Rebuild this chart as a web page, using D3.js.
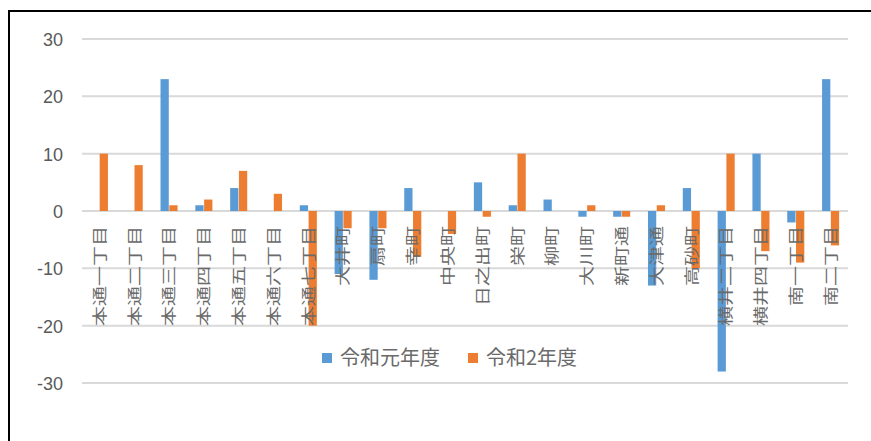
<!DOCTYPE html>
<html>
<head>
<meta charset="utf-8">
<script src="https://cdn.jsdelivr.net/npm/d3@7"></script>
<style>
  html, body { margin: 0; padding: 0; background: #fff; }
  svg { display: block; }
</style>
</head>
<body>
<svg id="chart" width="871" height="441"></svg>
<script>
// Districts along the x axis
const categories = [
  "本通一丁目", "本通二丁目", "本通三丁目", "本通四丁目", "本通五丁目", "本通六丁目", "本通七丁目",
  "大井町", "扇町", "幸町", "中央町", "日之出町", "栄町", "柳町", "大川町", "新町通", "大津通",
  "高砂町", "横井二丁目", "横井四丁目", "南一丁目", "南二丁目"
];
// Change per district, by fiscal year
const seriesNames = ["令和元年度", "令和2年度"];
const reiwa1 = [0, 0, 23, 1, 4, 0, 1, -11, -12, 4, 0, 5, 1, 2, -1, -1, -13, 4, -28, 10, -2, 23];
const reiwa2 = [10, 8, 1, 2, 7, 3, -20, -3, -3, -8, -4, -1, 10, 0, 1, -1, 1, -10, 10, -7, -9, -6];
const yTicks = [-30, -20, -10, 0, 10, 20, 30];
const colors = ["#5b9bd5", "#ed7d31"];

const svg = d3.select("#chart");
const values = [reiwa1, reiwa2];

const x = d3.scaleBand()
  .domain(categories)
  .range([82, 848])
  .paddingInner(0.51)
  .paddingOuter(0.255);
const xs = d3.scaleBand()
  .domain(seriesNames)
  .range([0, x.bandwidth()])
  .paddingInner(0.06);
const y = d3.scaleLinear().domain([-30, 30]).range([383, 39]);

// outer frame (top and left edges)
svg.append("path")
  .attr("d", "M9,441 V11 H871")
  .attr("fill", "none")
  .attr("stroke", "#000")
  .attr("stroke-width", 2);

// horizontal gridlines
svg.append("g")
  .selectAll("line")
  .data(yTicks)
  .join("line")
  .attr("x1", 82).attr("x2", 848)
  .attr("y1", d => y(d)).attr("y2", d => y(d))
  .attr("stroke", "#d9d9d9")
  .attr("stroke-width", 2);

// y axis labels (plain hyphen for negatives)
const yAxis = d3.axisLeft(y).tickValues(yTicks).tickFormat(d => String(d)).tickSize(0).tickPadding(0);
const gy = svg.append("g").attr("transform", "translate(63,0)").call(yAxis);
gy.select(".domain").remove();
gy.selectAll("text")
  .attr("fill", "#595959")
  .attr("font-family", "'Liberation Sans', Arial, sans-serif")
  .attr("font-size", 18)
  .attr("dy", "0.36em");

// bars
const groups = svg.append("g")
  .selectAll("g")
  .data(seriesNames)
  .join("g")
  .attr("fill", (d, i) => colors[i]);
groups.selectAll("rect")
  .data((s, si) => categories.map((c, ci) => ({ c, s, v: values[si][ci] })))
  .join("rect")
  .attr("x", d => x(d.c) + xs(d.s))
  .attr("width", xs.bandwidth())
  .attr("y", d => y(Math.max(0, d.v)))
  .attr("height", d => Math.abs(y(d.v) - y(0)));

// category labels, rotated, reading upward from just under the zero line
svg.append("g")
  .selectAll("text")
  .data(categories)
  .join("text")
  .attr("transform", d => `translate(${x(d) + x.bandwidth() / 2},${y(0) + 15}) rotate(-90) scale(1,0.74)`)
  .attr("text-anchor", "end")
  .attr("dy", "0.36em")
  .attr("fill", "#6a6a6a")
  .attr("font-family", "'Noto Sans CJK JP', sans-serif")
  .attr("font-size", 20)
  .text(d => d);

// legend
const legendItems = [
  { name: seriesNames[0], color: colors[0], x: 322 },
  { name: seriesNames[1], color: colors[1], x: 468 }
];
const lg = svg.append("g")
  .selectAll("g")
  .data(legendItems)
  .join("g")
  .attr("transform", d => `translate(${d.x},358)`);
lg.append("rect")
  .attr("x", 0).attr("y", -5)
  .attr("width", 10).attr("height", 10)
  .attr("fill", d => d.color);
lg.append("text")
  .attr("x", 18)
  .attr("dy", "0.36em")
  .attr("fill", "#6a6a6a")
  .attr("font-family", "'Noto Sans CJK JP', sans-serif")
  .attr("font-size", 20)
  .text(d => d.name);
</script>
</body>
</html>
